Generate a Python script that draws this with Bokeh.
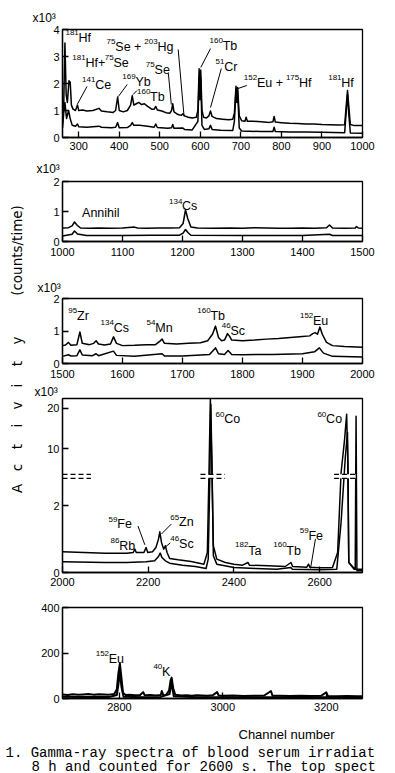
import math
from bokeh.plotting import figure
from bokeh.models import Range1d, Label, FixedTicker, Title
from bokeh.layouts import column, row
from bokeh.embed import file_html
from bokeh.resources import INLINE

# ------------------------------------------------------------------ data
# Panel 1 (channels 260-1000), counts x10^3
p1_up_ch = [260, 263, 266, 269, 272, 276, 279, 282, 286, 292, 297, 300, 310, 320, 335, 350, 356, 370, 385,
            391, 396, 400, 410, 420, 428, 432, 436, 442, 448, 455, 462, 470, 480, 486, 490, 494, 505, 515,
            525, 529, 532, 535, 545, 553, 557, 561, 570, 580, 590, 594, 597, 599, 601, 604, 608, 615, 621,
            625, 629, 640, 655, 670, 680, 684, 688, 690, 692, 696, 702, 710, 713, 716, 730, 750, 770, 779,
            782, 785, 800, 820, 840, 860, 880, 900, 920, 940, 956, 960, 963, 966, 970, 980, 1000]
p1_up_ct = [0.5, 1.2, 3.5, 1.6, 1.3, 2.1, 2.05, 1.2, 1.05, 1.0, 1.2, 1.0, 1.02, 0.98, 1.0, 1.08, 0.98, 0.95, 0.93,
            1.0, 1.5, 1.0, 0.95, 1.0, 1.2, 1.55, 1.2, 1.25, 1.3, 1.22, 1.25, 1.15, 1.05, 1.05, 1.15, 1.02, 0.98, 0.92,
            0.9, 1.0, 1.25, 0.95, 0.85, 0.82, 0.88, 0.8, 0.75, 0.72, 0.75, 1.0, 2.55, 1.5, 2.5, 1.0, 0.75, 0.72, 0.8,
            0.98, 0.78, 0.7, 0.68, 0.66, 0.68, 0.9, 1.9, 1.4, 1.85, 0.8, 0.62, 0.6, 0.75, 0.6, 0.6, 0.58, 0.56, 0.58,
            0.78, 0.57, 0.55, 0.53, 0.52, 0.5, 0.5, 0.48, 0.47, 0.46, 0.47, 1.2, 1.74, 1.2, 0.48, 0.44, 0.44]
p1_lo_ch = [260, 263, 266, 270, 275, 279, 284, 292, 297, 300, 320, 350, 356, 380, 391, 396, 400, 420, 428, 432,
            436, 450, 470, 486, 490, 494, 520, 529, 532, 535, 557, 561, 580, 594, 597, 599, 601, 604, 610, 621,
            625, 629, 650, 680, 684, 688, 690, 692, 696, 702, 750, 779, 782, 785, 820, 860, 900, 956, 960, 963,
            966, 970, 1000]
p1_lo_ct = [0.35, 0.9, 1.3, 0.7, 1.0, 0.7, 0.45, 0.42, 0.5, 0.4, 0.38, 0.42, 0.38, 0.36, 0.38, 0.55, 0.36, 0.37, 0.45, 0.55,
            0.45, 0.45, 0.42, 0.38, 0.5, 0.37, 0.34, 0.36, 0.48, 0.34, 0.35, 0.3, 0.28, 0.6, 2.3, 1.4, 2.2, 0.45, 0.3, 0.32,
            0.45, 0.3, 0.27, 0.26, 0.6, 1.8, 1.3, 1.7, 0.35, 0.24, 0.22, 0.22, 0.38, 0.22, 0.2, 0.2, 0.19, 0.18, 1.0, 1.6,
            0.9, 0.17, 0.16]

# Panel 2 (channels 1000-1500), counts x10^3
p2_up_ch = [1000, 1010, 1016, 1020, 1024, 1030, 1045, 1060, 1080, 1100, 1120, 1125, 1140, 1160, 1180, 1195, 1201,
            1205, 1209, 1214, 1225, 1250, 1280, 1300, 1320, 1340, 1360, 1380, 1400, 1420, 1440, 1445, 1450, 1470,
            1488, 1490, 1493, 1500]
p2_up_ct = [0.45, 0.46, 0.52, 0.65, 0.55, 0.45, 0.44, 0.45, 0.44, 0.45, 0.48, 0.45, 0.44, 0.45, 0.45, 0.46, 0.6,
            1.05, 0.75, 0.48, 0.45, 0.44, 0.45, 0.44, 0.46, 0.45, 0.44, 0.44, 0.45, 0.44, 0.46, 0.55, 0.45, 0.44,
            0.45, 0.5, 0.45, 0.44]
p2_lo_ch = [1000, 1016, 1020, 1025, 1040, 1100, 1150, 1195, 1201, 1205, 1209, 1214, 1300, 1400, 1445, 1450, 1500]
p2_lo_ct = [0.18, 0.24, 0.35, 0.25, 0.2, 0.2, 0.21, 0.21, 0.28, 0.4, 0.3, 0.21, 0.2, 0.2, 0.24, 0.2, 0.2]

# Panel 3 (channels 1500-2000), counts x10^3
p3_up_ch = [1500, 1505, 1510, 1514, 1524, 1529, 1533, 1545, 1552, 1556, 1560, 1570, 1580, 1585, 1590, 1600, 1620,
            1640, 1655, 1662, 1666, 1670, 1690, 1710, 1730, 1742, 1750, 1755, 1760, 1765, 1770, 1775, 1778, 1782,
            1800, 1820, 1840, 1860, 1880, 1900, 1912, 1917, 1921, 1925, 1929, 1933, 1940, 1950, 1970, 2000]
p3_up_ct = [0.55, 0.57, 0.65, 0.56, 0.58, 0.97, 0.62, 0.58, 0.62, 0.7, 0.6, 0.57, 0.6, 0.82, 0.62, 0.55, 0.56,
            0.58, 0.58, 0.68, 0.75, 0.62, 0.6, 0.62, 0.64, 0.7, 0.9, 1.15, 0.8, 0.7, 0.72, 0.92, 0.85, 0.72,
            0.7, 0.72, 0.75, 0.77, 0.8, 0.83, 0.85, 0.92, 0.95, 0.9, 1.12, 0.9, 0.65, 0.55, 0.52, 0.5]
p3_lo_ch = [1500, 1510, 1514, 1524, 1529, 1533, 1550, 1556, 1560, 1585, 1590, 1620, 1666, 1670, 1700, 1745, 1755,
            1760, 1770, 1776, 1782, 1800, 1850, 1900, 1920, 1928, 1935, 1950, 2000]
p3_lo_ct = [0.22, 0.27, 0.23, 0.24, 0.42, 0.26, 0.24, 0.3, 0.24, 0.38, 0.25, 0.22, 0.3, 0.23, 0.23, 0.28, 0.48,
            0.3, 0.28, 0.4, 0.28, 0.27, 0.28, 0.3, 0.36, 0.48, 0.32, 0.22, 0.2]

# Panel 4 (channels 2000-2700), counts x10^3 (broken axis)
p4_up_ch = [2000, 2050, 2100, 2150, 2165, 2169, 2172, 2190, 2195, 2199, 2210, 2218, 2224, 2227, 2231, 2236, 2240,
            2244, 2250, 2270, 2300, 2330, 2338, 2342, 2345, 2348, 2352, 2360, 2380, 2400, 2420, 2433, 2436, 2480,
            2520, 2533, 2537, 2570, 2574, 2577, 2600, 2630, 2642, 2650, 2658, 2663, 2666, 2668, 2680, 2700]
p4_up_ct = [0.62, 0.6, 0.58, 0.58, 0.6, 0.7, 0.6, 0.6, 0.75, 0.6, 0.62, 0.75, 1.0, 1.22, 0.9, 0.7, 0.8,
            0.6, 0.42, 0.38, 0.33, 0.25, 0.6, 5.0, 22.5, 8.0, 0.8, 0.4, 0.3, 0.25, 0.22, 0.3, 0.22, 0.2,
            0.18, 0.3, 0.18, 0.16, 0.25, 0.16, 0.14, 0.15, 0.6, 4.0, 12.0, 18.5, 6.0, 0.3, 0.1, 0.1]
p4_lo_ch = [2000, 2100, 2150, 2195, 2215, 2224, 2228, 2232, 2240, 2250, 2280, 2310, 2335, 2340, 2344, 2346, 2349,
            2352, 2360, 2400, 2450, 2500, 2533, 2536, 2600, 2640, 2650, 2660, 2665, 2668, 2683, 2685, 2687, 2700]
p4_lo_ct = [0.32, 0.3, 0.3, 0.32, 0.35, 0.48, 0.58, 0.45, 0.35, 0.28, 0.22, 0.18, 0.12, 0.4, 4.0, 21.0, 5.0,
            0.5, 0.25, 0.15, 0.12, 0.1, 0.15, 0.1, 0.08, 0.1, 1.5, 8.0, 14.0, 0.3, 0.1, 18.0, 0.05, 0.05]

# Panel 5 (channels 2690-3270), counts
p5_up_ch = [2690, 2700, 2710, 2720, 2730, 2740, 2750, 2760, 2770, 2780, 2790, 2795, 2798, 2801, 2804, 2807, 2812,
            2820, 2830, 2840, 2846, 2849, 2860, 2870, 2880, 2882, 2885, 2890, 2896, 2899, 2901, 2904, 2908, 2920,
            2930, 2940, 2950, 2960, 2970, 2980, 2989, 2992, 3000, 3020, 3040, 3060, 3080, 3093, 3096, 3110, 3130,
            3150, 3170, 3190, 3200, 3203, 3220, 3240, 3260, 3270]
p5_up_ct = [18, 15, 19, 16, 18, 20, 17, 19, 18, 17, 20, 40, 110, 153, 90, 25, 15,
            16, 14, 15, 28, 14, 15, 13, 15, 33, 14, 15, 35, 80, 92, 45, 16, 13,
            14, 12, 14, 13, 12, 14, 28, 13, 12, 13, 11, 12, 13, 33, 12, 12, 11,
            12, 11, 12, 27, 11, 10, 11, 10, 10]
p5_lo_ch = [2690, 2720, 2750, 2780, 2795, 2798, 2801, 2804, 2808, 2850, 2880, 2897, 2901, 2905, 2950, 3000, 3050,
            3100, 3150, 3200, 3270]
p5_lo_ct = [8, 7, 8, 7, 15, 60, 120, 50, 8, 6, 7, 20, 70, 10, 6, 6, 5, 6, 5, 5, 4]

p1_xticks = [300, 400, 500, 600, 700, 800, 900, 1000]
p1_yticks = [0, 1, 2, 3, 4]
p2_xticks = [1000, 1100, 1200, 1300, 1400, 1500]
p2_yticks = [0, 1, 2]
p3_xticks = [1500, 1600, 1700, 1800, 1900, 2000]
p3_yticks = [0, 1, 2]
p4_xticks = [2000, 2200, 2400, 2600]
p4_yticks = [0, 2, 10, 20]
p5_xticks = [2800, 3000, 3200]
p5_yticks = [0, 200, 400]

# ------------------------------------------------------------------ helpers
W0 = 26
FONT = "Liberation Sans"
CW = {'A': .667, 'B': .667, 'C': .722, 'E': .667, 'F': .611, 'H': .722, 'K': .667, 'M': .833, 'R': .722,
      'S': .667, 'T': .611, 'Y': .667, 'Z': .611, 'a': .556, 'b': .556, 'c': .5, 'e': .556, 'f': .278,
      'g': .556, 'h': .556, 'i': .222, 'k': .5, 'l': .222, 'm': .833, 'n': .556, 'o': .556, 'r': .333,
      's': .5, 't': .278, 'u': .556, 'x': .5, 'y': .5, ' ': .278, '+': .584}


def tw(s, size):
    return sum(CW.get(c, .556) for c in s) * size


BREAK = 2.85
SQUEEZE = 0.1208


def brk(v):
    return v if v <= BREAK else BREAK + (v - BREAK) * SQUEEZE


class Panel:
    def __init__(self, top, bottom, L, T, R, B, xr, yr, xticks, yticks, xstand, ylabels=None,
                 x10=None, lw=1.5):
        self.L, self.T, self.R, self.B = L, T, R, B
        self.xr, self.yr = xr, yr
        self.lw = lw
        p = figure(width=395 - W0, height=bottom - top,
                   x_range=Range1d(*xr), y_range=Range1d(*yr),
                   output_backend="svg", toolbar_location=None,
                   min_border_left=L - W0, min_border_right=395 - R,
                   min_border_top=T - top, min_border_bottom=bottom - B)
        p.xgrid.visible = False
        p.ygrid.visible = False
        p.outline_line_color = "black"
        p.outline_line_width = 1.3
        p.background_fill_color = "white"
        p.border_fill_color = "white"
        for ax in (p.xaxis[0], p.yaxis[0]):
            ax.axis_line_width = 1.3
            ax.axis_line_color = "black"
            ax.major_tick_in = 6
            ax.major_tick_out = 0
            ax.major_tick_line_width = 1.3
            ax.major_tick_line_color = "black"
            ax.minor_tick_line_color = None
            ax.major_label_text_font = FONT
            ax.major_label_text_font_size = "11px"
            ax.major_label_text_color = "black"
        p.xaxis[0].ticker = FixedTicker(ticks=xticks)
        p.yaxis[0].ticker = FixedTicker(ticks=yticks)
        p.xaxis[0].major_label_standoff = xstand
        p.yaxis[0].major_label_standoff = 3
        if ylabels:
            p.yaxis[0].major_label_overrides = ylabels
        if x10 is not None:
            xpage, standoff = x10
            p.add_layout(Title(text="x10\u00b3", align="left", offset=xpage - L, standoff=standoff,
                               text_font=FONT, text_font_size="12px", text_font_style="normal",
                               text_color="black"), "above")
        self.p = p

    def dx(self, x):
        return self.xr[0] + (x - self.L) / (self.R - self.L) * (self.xr[1] - self.xr[0])

    def dy(self, y):
        return self.yr[0] + (self.B - y) / (self.B - self.T) * (self.yr[1] - self.yr[0])

    def put(self, x, base, pieces, size=12.5, sup=8.0, rise=5.0):
        for t, s in pieces:
            fs = sup if s else size
            yb = base - rise if s else base
            self.p.add_layout(Label(x=self.dx(x), y=self.dy(yb), text=t, text_font=FONT,
                                    text_font_size=f"{fs}px", text_baseline="alphabetic",
                                    text_align="left", text_color="black"))
            x += tw(t, fs)

    def lead(self, x0, y0, x1, y1):
        self.p.segment(x0=[self.dx(x0)], y0=[self.dy(y0)], x1=[self.dx(x1)], y1=[self.dy(y1)],
                       line_color="black", line_width=1.0)

    def trace(self, ch, ct, tf=None):
        ys = [tf(v) for v in ct] if tf else ct
        self.p.line(ch, ys, line_color="black", line_width=self.lw, line_join="round")


# ------------------------------------------------------------------ panel 1
P1 = Panel(0, 154, 62, 29, 368, 137, (260, 1000), (0, 4), p1_xticks, p1_yticks, 4, x10=(32, 9))
P1.trace(p1_up_ch, p1_up_ct)
P1.trace(p1_lo_ch, p1_lo_ct)
P1.put(65, 37, [("181", True), ("Hf", False)])
P1.put(72, 62, [("181", True), ("Hf+", False), ("75", True), ("Se", False)])
P1.put(82, 84, [("141", True), ("Ce", False)])
P1.put(123, 81, [("169", True), ("Yb", False)])
P1.put(138, 96, [("160", True), ("Tb", False)])
P1.put(107, 46, [("75", True), ("Se + ", False), ("203", True), ("Hg", False)])
P1.put(147, 69, [("75", True), ("Se", False)])
P1.put(212, 45, [("160", True), ("Tb", False)])
P1.put(218, 66, [("51", True), ("Cr", False)])
P1.put(247, 82, [("152", True), ("Eu + ", False), ("175", True), ("Hf", False)])
P1.put(333, 82, [("181", True), ("Hf", False)])
P1.lead(87, 86, 77, 104)
P1.lead(128, 84, 119, 96)
P1.lead(134, 94, 138, 90)
P1.lead(180, 49, 186, 116)
P1.lead(170, 73, 173, 104)
P1.lead(213, 48, 203, 67)
P1.lead(224, 68, 213, 107)
P1.lead(250, 85, 241, 88)

# ------------------------------------------------------------------ panel 2
P2 = Panel(154, 265, 58, 180, 365, 241, (1000, 1500), (0, 2), p2_xticks, p2_yticks, 6, x10=(32, 11))
P2.trace(p2_up_ch, p2_up_ct)
P2.trace(p2_lo_ch, p2_lo_ct)
P2.put(78, 212, [("Annihil", False)])
P2.put(167, 205, [("134", True), ("Cs", False)])

# ------------------------------------------------------------------ panel 3
P3 = Panel(265, 382, 57, 298, 364, 363, (1500, 2000), (0, 2), p3_xticks, p3_yticks, 6, x10=(32, 7))
P3.trace(p3_up_ch, p3_up_ct)
P3.trace(p3_lo_ch, p3_lo_ct)
P3.put(63, 315, [("95", True), ("Zr", False)])
P3.put(96, 327, [("134", True), ("Cs", False)])
P3.put(143, 327, [("54", True), ("Mn", False)])
P3.put(195, 315, [("160", True), ("Tb", False)])
P3.put(220, 330, [("46", True), ("Sc", False)])
P3.put(300, 320, [("152", True), ("Eu", False)])

# ------------------------------------------------------------------ panel 4 (broken y axis)
p4_top = 22.4
P4 = Panel(382, 596, 56, 396, 362, 572, (2000, 2700), (0, brk(p4_top)), p4_xticks,
           [brk(v) for v in p4_yticks], 5,
           ylabels={brk(v): str(v) for v in p4_yticks}, x10=(28, 0))
P4.trace(p4_up_ch, p4_up_ct, brk)
P4.trace(p4_lo_ch, p4_lo_ct, brk)
for xa, xb, wipe in [(56, 85, False), (196.7, 221.7, True), (333, 355, True)]:
    ya, yb = P4.dy(472.7), P4.dy(476.7)
    if wipe:
        P4.p.quad(left=[P4.dx(xa)], right=[P4.dx(xb)], bottom=[yb], top=[ya],
                  fill_color="white", line_color=None)
    P4.p.segment(x0=[P4.dx(xa)] * 2, x1=[P4.dx(xb)] * 2, y0=[ya, yb], y1=[ya, yb],
                 line_color="black", line_width=1.2, line_dash="5 3")
P4.put(212, 417, [("60", True), ("Co", False)])
P4.put(316, 417, [("60", True), ("Co", False)])
P4.put(103, 523, [("59", True), ("Fe", False)])
P4.put(105, 545, [("86", True), ("Rb", False)])
P4.put(166, 521, [("65", True), ("Zn", False)])
P4.put(166, 543, [("46", True), ("Sc", False)])
P4.put(232, 550, [("182", True), ("Ta", False)], rise=6)
P4.put(271, 550, [("160", True), ("Tb", False)], rise=6)
P4.put(298, 535, [("59", True), ("Fe", False)])
P4.lead(133, 525, 140, 544)
P4.lead(167, 523, 157, 533)
P4.lead(166, 542, 160, 547)
P4.lead(314, 538, 309, 568)

# ------------------------------------------------------------------ panel 5
P5 = Panel(596, 716, 55, 607, 362, 698, (2690, 3270), (0, 400), p5_xticks, p5_yticks, 4, lw=2.0)
P5.trace(p5_up_ch, p5_up_ct)
P5.trace(p5_lo_ch, p5_lo_ct)
P5.put(89, 658, [("152", True), ("Eu", False)])
P5.put(148, 671, [("40", True), ("K", False)])

# ------------------------------------------------------------------ y label column
YL = figure(width=W0, height=716, x_range=Range1d(0, W0), y_range=Range1d(716, 0),
            output_backend="svg", toolbar_location=None, x_axis_type=None, y_axis_type=None,
            min_border=0, min_border_left=0, min_border_right=0, min_border_top=0, min_border_bottom=0)
YL.outline_line_color = None
YL.xgrid.visible = False
YL.ygrid.visible = False
YF = "DejaVu Sans"
YL.add_layout(Label(x=16, y=250, text="(counts/time)", angle=math.pi / 2, text_font=YF,
                    text_font_size="13.5px", text_align="center", text_baseline="middle",
                    text_color="black"))
for ch_, yy in zip("Activity", [488, 467, 446, 425, 405, 385, 363, 340]):
    YL.add_layout(Label(x=16, y=yy, text=ch_, angle=math.pi / 2, text_font=YF,
                        text_font_size="13.5px", text_align="center", text_baseline="middle",
                        text_color="black"))

# ------------------------------------------------------------------ caption + x axis title
CP = figure(width=395, height=57, x_range=Range1d(0, 395), y_range=Range1d(57, 0),
            output_backend="svg", toolbar_location=None, x_axis_type=None, y_axis_type=None,
            min_border=0, min_border_left=0, min_border_right=0, min_border_top=0, min_border_bottom=0)
CP.outline_line_color = None
CP.xgrid.visible = False
CP.ygrid.visible = False
CP.add_layout(Label(x=238, y=18, text="Channel number", text_font=FONT, text_font_size="13px",
                    text_align="left", text_baseline="alphabetic", text_color="black"))
for xx, yy, t in [(5, 36, "1. Gamma-ray spectra of blood serum irradiat"),
                  (31, 50, "8 h and counted for 2600 s. The top spect")]:
    CP.add_layout(Label(x=xx, y=yy, text=t, text_font="Liberation Mono", text_font_size="14px",
                        text_align="left", text_baseline="alphabetic", text_color="black"))

layout = column(row(YL, column(P1.p, P2.p, P3.p, P4.p, P5.p)), CP)
open("out.html", "w").write(file_html(layout, INLINE))
